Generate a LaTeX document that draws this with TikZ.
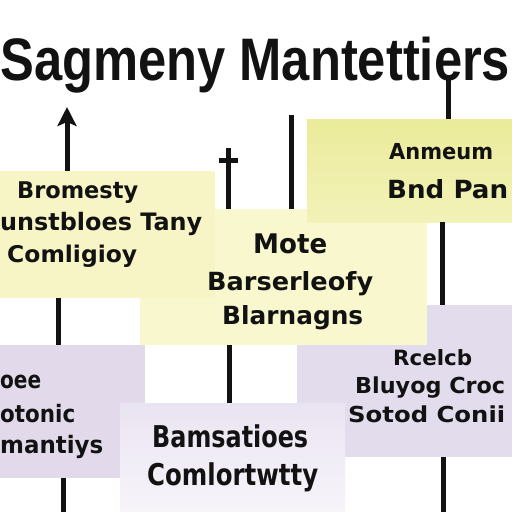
\documentclass[tikz,border=0pt]{standalone}
\usepackage{fontspec}
\usepackage{graphicx}
\setmainfont{DejaVu Sans}
\newfontfamily\titlefont{Liberation Sans}
\newfontfamily\boxfont{DejaVu Sans}
\usetikzlibrary{arrows.meta}
\definecolor{ylwA}{RGB}{247,245,198}
\definecolor{ylwB}{RGB}{248,247,206}
\definecolor{ylwCtop}{RGB}{235,235,155}
\definecolor{ylwCbot}{RGB}{242,242,185}
\definecolor{lavA}{RGB}{227,220,237}
\definecolor{lavB}{RGB}{226,217,235}
\definecolor{lavCtop}{RGB}{234,228,242}
\definecolor{lavCbot}{RGB}{247,244,250}
\definecolor{ink}{RGB}{18,18,18}
\newcommand{\fitw}[2]{\resizebox{#1}{\height}{#2}}
\tikzset{
  con/.style={line width=5pt, draw=ink},
  boxnode/.style={rectangle, inner sep=0pt, outer sep=0pt, anchor=north west, draw=none},
  tx/.style={font=\boxfont\bfseries\fontsize{#1}{#1}\selectfont, inner sep=0pt, anchor=base west, text=ink},
  ttl/.style={font=\titlefont\bfseries\fontsize{60}{60}\selectfont, inner sep=0pt, anchor=base west, text=ink}
}
\begin{document}
\begin{tikzpicture}[x=1pt,y=-1pt]
\useasboundingbox (0,0) rectangle (512,512);
\fill[white] (0,0) rectangle (512,512);
% boxes (defined first as nodes, drawn in order)
\node[boxnode, fill=lavA, minimum width=215pt, minimum height=152pt] (b4) at (297,305) {};
\node[boxnode, fill=ylwB, minimum width=287pt, minimum height=136pt] (b2) at (140,209) {};
\node[boxnode, fill=ylwA, minimum width=215pt, minimum height=127pt] (b1) at (0,171) {};
\node[boxnode, top color=ylwCtop, bottom color=ylwCbot, minimum width=205pt, minimum height=103pt] (b3) at (307,119) {};
\node[boxnode, fill=lavB, minimum width=145pt, minimum height=133pt] (b5) at (0,345) {};
\node[boxnode, top color=lavCtop, bottom color=lavCbot, minimum width=225pt, minimum height=109pt] (b6) at (120,403) {};
% free ends
\coordinate (a1) at (67,107);
\coordinate (d1) at (228,148);
\coordinate (d2l) at (219,160);
\coordinate (d2r) at (238,160);
\coordinate (c3) at (291,115);
\coordinate (c4) at (448,78);
\coordinate (c5) at (442,0);
\coordinate (c6) at (58,0);
\coordinate (c7) at (63,512);
\coordinate (c8) at (229,0);
\coordinate (c9) at (443,512);
% connectors
\draw[con, -{Stealth[length=19pt,width=19pt,inset=4pt]}] (b1.north -| a1) -- (a1);
\draw[con] (b2.north -| d1) -- (d1);
\draw[con] (d2l) -- (d2r);
\draw[con] (b2.north -| c3) -- (c3);
\draw[con] (b3.north -| c4) -- (c4);
\draw[con] (b3.south -| c5) -- (b4.north -| c5);
\draw[con] (b1.south -| c6) -- (b5.north -| c6);
\draw[con] (b5.south -| c7) -- (c7);
\draw[con] (b2.south -| c8) -- (b6.north -| c8);
\draw[con] (b4.south -| c9) -- (c9);
% texts
\node[tx=23] (t1a) at (17,198) {\fitw{121pt}{Bromesty}};
\node[tx=24] (t1b) at (0,230) {\fitw{202pt}{unstbloes Tany}};
\node[tx=23] (t1c) at (7,262) {\fitw{130pt}{Comligioy}};
\node[tx=27] (t2a) at (253,253) {\fitw{74pt}{Mote}};
\node[tx=25] (t2b) at (207,290) {\fitw{166pt}{Barserleofy}};
\node[tx=25] (t2c) at (222,324) {\fitw{141pt}{Blarnagns}};
\node[tx=22] (t3a) at (389,159) {\fitw{104pt}{Anmeum}};
\node[tx=25] (t3b) at (387,198) {\fitw{121pt}{Bnd Pan}};
\node[tx=21] (t4a) at (393,365) {\fitw{79pt}{Rcelcb}};
\node[tx=22] (t4b) at (355,393) {\fitw{150pt}{Bluyog Croc}};
\node[tx=22] (t4c) at (348,422) {\fitw{157pt}{Sotod Conii}};
\node[tx=24] (t5a) at (0,388) {\fitw{41pt}{oee}};
\node[tx=24] (t5b) at (0,422) {\fitw{75pt}{otonic}};
\node[tx=24] (t5c) at (0,453) {\fitw{103pt}{mantiys}};
\node[tx=30] (t6a) at (152,447) {\fitw{156pt}{Bamsatioes}};
\node[tx=30] (t6b) at (147,485) {\fitw{171pt}{Comlortwtty}};
% title
\node[ttl] (title) at (0,80) {\fitw{510pt}{Sagmeny Mantettiers}};
\end{tikzpicture}
\end{document}
